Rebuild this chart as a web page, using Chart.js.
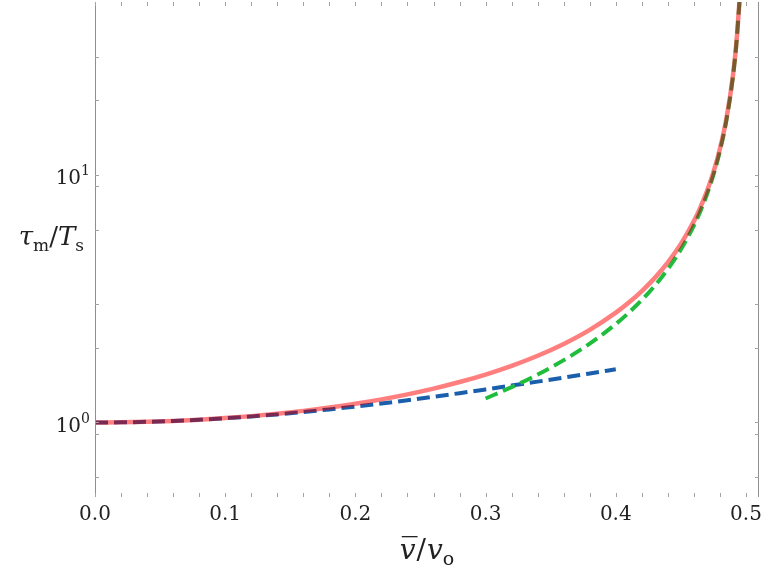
<!DOCTYPE html>
<html lang="en">
  <head>
    <meta charset="UTF-8" />
    <title>tau_m / T_s</title>
    <script src="https://cdn.jsdelivr.net/npm/chart.js"></script>
    <style>
      html, body { margin: 0; padding: 0; background: #fff; }
      #wrap { position: relative; width: 763px; height: 567px; }
    </style>
  </head>
  <body>
    <div id="wrap"><canvas id="chart"></canvas></div>
    <script>
      // exact curve
      const fullX = [0, 0.02, 0.04, 0.06, 0.08, 0.1, 0.12, 0.14, 0.16, 0.18, 0.2, 0.22, 0.24, 0.26, 0.28, 0.3,
        0.32, 0.34, 0.36, 0.38, 0.4, 0.41, 0.42, 0.43, 0.44, 0.45, 0.46, 0.465, 0.47, 0.475, 0.48, 0.485, 0.49, 0.4925, 0.495];
      const fullY = [1, 1.0016, 1.0064, 1.0146, 1.0263, 1.0417, 1.0611, 1.0851, 1.1141, 1.1489, 1.1905, 1.2401, 1.2994, 1.3706, 1.4569, 1.5625,
        1.6938, 1.8601, 2.0764, 2.3674, 2.7778, 3.0525, 3.397, 3.84, 4.433, 5.263, 6.51, 7.402, 8.591, 10.256, 12.755, 16.92, 25.25, 33.58, 50.25];

      // low-speed approximation (blue dashes)
      const lowX = [0, 0.02, 0.04, 0.06, 0.08, 0.1, 0.12, 0.14, 0.16, 0.18, 0.2, 0.22, 0.24, 0.26, 0.28, 0.3, 0.32, 0.34, 0.36, 0.38, 0.4];
      const lowY = [1, 1.0016, 1.0064, 1.0144, 1.0256, 1.04, 1.0576, 1.0784, 1.1024, 1.1296, 1.16, 1.1936, 1.2304, 1.2704, 1.3136, 1.36,
        1.4096, 1.4624, 1.5184, 1.5776, 1.64];

      // near-limit approximation (green dashes)
      const highX = [0.3, 0.32, 0.34, 0.36, 0.38, 0.4, 0.41, 0.42, 0.43, 0.44, 0.45, 0.46, 0.465, 0.47, 0.475, 0.48, 0.485, 0.49, 0.4925, 0.495];
      const highY = [1.25, 1.389, 1.5625, 1.786, 2.083, 2.5, 2.778, 3.125, 3.571, 4.167, 5, 6.25, 7.143, 8.333, 10, 12.5, 16.67, 25, 33.33, 50];

      const xTicks = [0, 0.02, 0.04, 0.06, 0.08, 0.1, 0.12, 0.14, 0.16, 0.18, 0.2, 0.22, 0.24, 0.26, 0.28, 0.3,
        0.32, 0.34, 0.36, 0.38, 0.4, 0.42, 0.44, 0.46, 0.48, 0.5];
      const xLabelValues = [0, 0.1, 0.2, 0.3, 0.4, 0.5];
      const xLabels = ["0.0", "0.1", "0.2", "0.3", "0.4", "0.5"];
      const yTicks = [0.6, 0.9, 1, 2, 3, 6, 9, 10, 20, 30];
      const yLabelValues = [1, 10];
      const yLabelExps = ["0", "1"];

      const pts = (xs, ys) => xs.map((x, i) => ({ x: x, y: ys[i] }));

      const SERIF = "DejaVu Serif";
      const DASH = [13, 6];

      // draws a run of text pieces left to right, returns total width
      function mathText(ctx, parts, x, y, measureOnly) {
        let cx = x;
        parts.forEach(p => {
          ctx.font = p.font;
          const w = ctx.measureText(p.t).width;
          if (!measureOnly) {
            ctx.fillText(p.t, cx, y + (p.dy || 0));
            if (p.bar) {
              ctx.fillRect(cx + 2, y - 23, w, 1.3);
            }
          }
          cx += w + (p.gap || 0);
        });
        return cx - x;
      }

      // lets the dashed lines turn dark where they sit on the solid one
      const blending = {
        id: "blending",
        beforeDatasetDraw(chart, args) {
          const op = chart.data.datasets[args.index].blend;
          if (op) chart.ctx.globalCompositeOperation = op;
        },
        afterDatasetDraw(chart) {
          chart.ctx.globalCompositeOperation = "source-over";
        },
      };

      const frame = {
        id: "frame",
        afterDraw(chart) {
          const { ctx, chartArea: a } = chart;
          const sx = chart.scales.x, sy = chart.scales.y;
          ctx.save();
          ctx.lineWidth = 1;
          ctx.strokeStyle = "#8f8f8f";
          ctx.beginPath();
          ctx.moveTo(a.left + 0.5, a.top);
          ctx.lineTo(a.left + 0.5, a.bottom);
          ctx.moveTo(a.right - 0.5, a.top);
          ctx.lineTo(a.right - 0.5, a.bottom);
          ctx.stroke();

          ctx.strokeStyle = "#a3a3a3";
          ctx.beginPath();
          xTicks.forEach(v => {
            const px = Math.round(sx.getPixelForValue(v)) + 0.5;
            ctx.moveTo(px, a.bottom);
            ctx.lineTo(px, a.bottom - 4);
            ctx.moveTo(px, a.top);
            ctx.lineTo(px, a.top + 4);
          });
          yTicks.forEach(v => {
            const py = Math.round(sy.getPixelForValue(v)) + 0.5;
            ctx.moveTo(a.left, py);
            ctx.lineTo(a.left + 4, py);
            ctx.moveTo(a.right, py);
            ctx.lineTo(a.right - 4, py);
          });
          ctx.stroke();

          ctx.fillStyle = "#222";
          ctx.textBaseline = "alphabetic";
          ctx.font = "20px " + SERIF;
          ctx.textAlign = "center";
          xLabelValues.forEach((v, i) => {
            ctx.fillText(xLabels[i], sx.getPixelForValue(v), a.bottom + 23);
          });

          ctx.textAlign = "left";
          yLabelValues.forEach((v, i) => {
            const py = sy.getPixelForValue(v);
            const parts = [
              { t: "10", font: "20px " + SERIF },
              { t: yLabelExps[i], font: "14px " + SERIF, dy: -9 },
            ];
            const w = mathText(ctx, parts, 0, 0, true);
            mathText(ctx, parts, a.left - 5 - w, py + 9.5);
          });

          // axis titles
          const big = "26px " + SERIF, bigI = "italic 26px " + SERIF, small = "17px " + SERIF;
          const yParts = [
            { t: "\u03c4", font: bigI },
            { t: "m", font: small, dy: 6 },
            { t: "/", font: big },
            { t: "T", font: bigI },
            { t: "s", font: small, dy: 6 },
          ];
          const yw = mathText(ctx, yParts, 0, 0, true);
          mathText(ctx, yParts, Math.max(2, 84 - yw), 245);

          const xParts = [
            { t: "v", font: "italic 28px " + SERIF, bar: true, gap: 1 },
            { t: "/", font: "28px " + SERIF, gap: 1 },
            { t: "v", font: "italic 28px " + SERIF },
            { t: "o", font: "19px " + SERIF, dy: 6 },
          ];
          const xw = mathText(ctx, xParts, 0, 0, true);
          mathText(ctx, xParts, 427 - xw / 2, 559);
          ctx.restore();
        },
      };

      new Chart(document.getElementById("chart"), {
        type: "line",
        data: {
          datasets: [
            {
              data: pts(fullX, fullY),
              borderColor: "#ff7f7f",
              borderWidth: 4.5,
              order: 5,
            },
            {
              data: pts(lowX, lowY),
              borderColor: "#7a2a52",
              borderWidth: 4,
              borderDash: DASH,
              blend: "source-atop",
              order: 4,
            },
            {
              data: pts(highX, highY),
              borderColor: "#7a5a2c",
              borderWidth: 4,
              borderDash: DASH,
              blend: "source-atop",
              order: 3,
            },
            {
              data: pts(highX, highY),
              borderColor: "#20bd3c",
              borderWidth: 4,
              borderDash: DASH,
              blend: "destination-over",
              order: 2,
            },
            {
              data: pts(lowX, lowY),
              borderColor: "#1a5fac",
              borderWidth: 4,
              borderDash: DASH,
              blend: "destination-over",
              order: 1,
            },
          ],
        },
        options: {
          responsive: true,
          maintainAspectRatio: false,
          animation: false,
          events: [],
          layout: { padding: { left: 95, right: 4, top: 2, bottom: 70 } },
          elements: {
            point: { radius: 0 },
            line: { cubicInterpolationMode: "monotone", borderCapStyle: "butt", fill: false },
          },
          plugins: { legend: { display: false }, tooltip: { enabled: false } },
          scales: {
            x: { type: "linear", min: 0, max: 0.51, display: false },
            y: { type: "logarithmic", min: 0.5, max: 50, display: false },
          },
        },
        plugins: [blending, frame],
      });
    </script>
  </body>
</html>
